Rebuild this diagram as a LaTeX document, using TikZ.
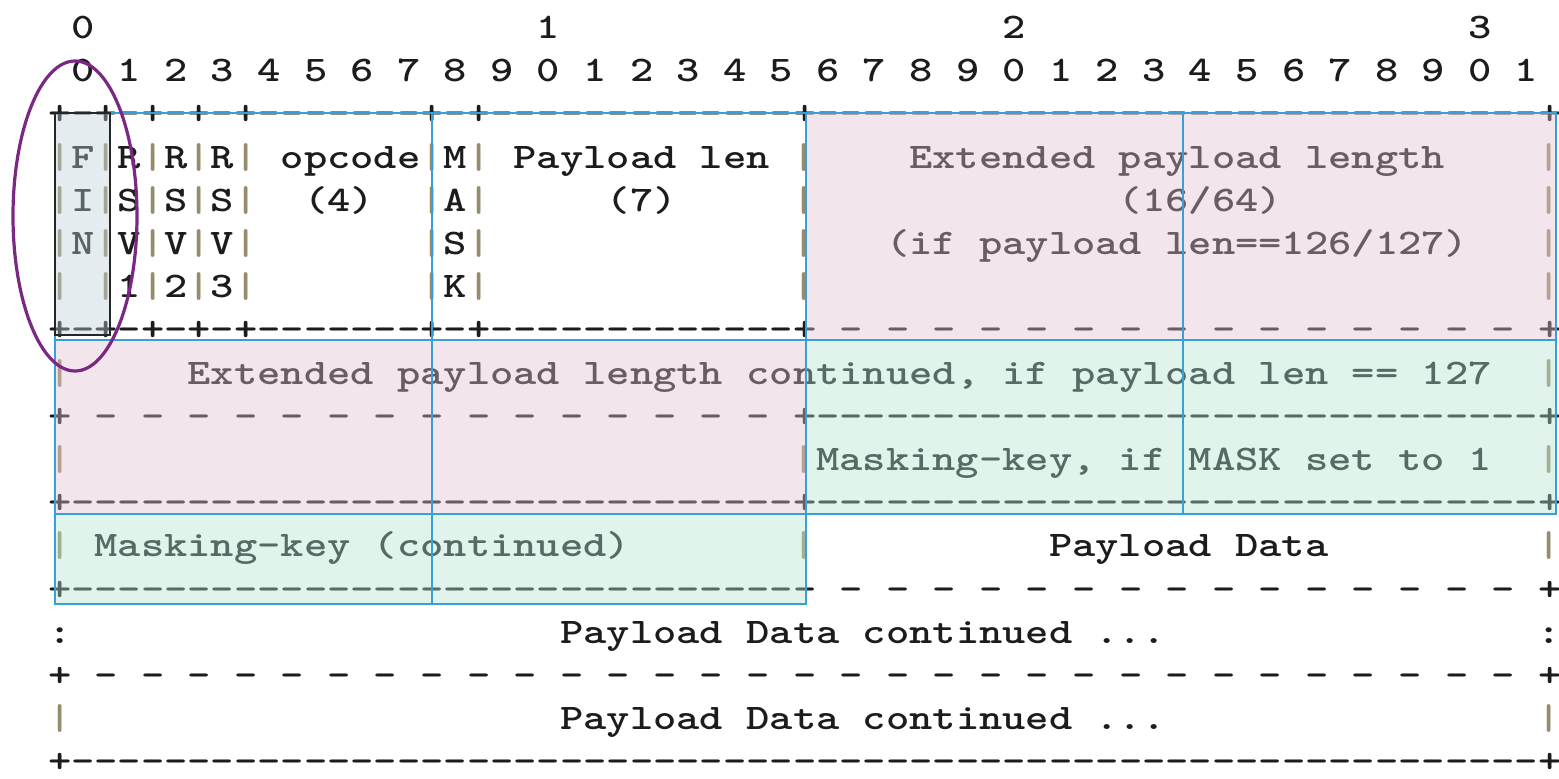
\documentclass[tikz,border=0pt]{standalone}
\usepackage{fontspec}
% bold slab-serif typewriter face, widened to the 23.28pt character pitch
\newfontfamily\framemono{lmmonolt10-bold.otf}[Ligatures=TeXOff, FakeStretch=1.232]
\ExplSyntaxOn
\NewDocumentCommand\rep{mm}{\prg_replicate:nn{#1}{#2}}
\ExplSyntaxOff
\frenchspacing

\definecolor{ink}{RGB}{28,28,30}
\definecolor{barcol}{RGB}{150,140,108}
\definecolor{pinkfill}{RGB}{225,190,207}
\definecolor{greenfill}{RGB}{177,227,207}
\definecolor{finfill}{RGB}{187,207,217}
\definecolor{bluerule}{RGB}{55,160,215}
\definecolor{circlecol}{RGB}{122,40,132}

\tikzset{
  cell/.style={inner sep=0pt, outer sep=0pt, anchor=base west,
    font=\framemono\fontsize{36}{43}\selectfont, text=ink},
  barchar/.style={cell, text=barcol},
  pinkzone/.style={fill=pinkfill, fill opacity=.4},
  greenzone/.style={fill=greenfill, fill opacity=.4},
  finzone/.style={fill=finfill, fill opacity=.4},
  blueline/.style={draw=bluerule, line width=1.8pt},
  finbox/.style={draw=black!85, line width=2.2pt},
  highlight/.style={draw=circlecol, line width=3.2pt}
}

% text run #4 named #1 starting at column #2 of row #3
\newcommand\txt[5][]{\node[cell,#1] (#2) at ({48+23.28*(#3)},{38.5+43.2*(#4)}) {#5};}
% vertical bars of row #1 at the listed columns
\newcommand\bars[2]{\foreach \c in {#2}{\node[barchar] (bar-#1-\c) at ({48+23.28*\c},{38.5+43.2*(#1)}) {|};}}

\begin{document}
\begin{tikzpicture}[x=1pt,y=-1pt]
\useasboundingbox (0,0) rectangle (1559,779);

% bit ruler
\txt{ten0}{1}{0}{0}
\txt{ten1}{21}{0}{1}
\txt{ten2}{41}{0}{2}
\txt{ten3}{61}{0}{3}
\txt{units}{1}{1}{0 1 2 3 4 5 6 7 8 9 0 1 2 3 4 5 6 7 8 9 0 1 2 3 4 5 6 7 8 9 0 1}

% first word
\txt{sep2}{0}{2}{+-+-+-+-+\rep{7}{-}+-+\rep{13}{-}+\rep{31}{-}+}
\bars{3}{0,2,4,6,8,16,18,32,64}
\bars{4}{0,2,4,6,8,16,18,32,64}
\bars{5}{0,2,4,6,8,16,18,32,64}
\bars{6}{0,2,4,6,8,16,18,32,64}
\txt{fin1}{1}{3}{F}
\txt{fin2}{1}{4}{I}
\txt{fin3}{1}{5}{N}
\txt{rsv1a}{3}{3}{R}
\txt{rsv1b}{3}{4}{S}
\txt{rsv1c}{3}{5}{V}
\txt{rsv1d}{3}{6}{1}
\txt{rsv2a}{5}{3}{R}
\txt{rsv2b}{5}{4}{S}
\txt{rsv2c}{5}{5}{V}
\txt{rsv2d}{5}{6}{2}
\txt{rsv3a}{7}{3}{R}
\txt{rsv3b}{7}{4}{S}
\txt{rsv3c}{7}{5}{V}
\txt{rsv3d}{7}{6}{3}
\txt{opcode}{10}{3}{opcode}
\txt{opbits}{11}{4}{(4)}
\txt{mask1}{17}{3}{M}
\txt{mask2}{17}{4}{A}
\txt{mask3}{17}{5}{S}
\txt{mask4}{17}{6}{K}
\txt{plen}{20}{3}{Payload len}
\txt{plenbits}{24}{4}{(7)}
\txt{ext}{37}{3}{Extended payload length}
\txt{extbits}{46}{4}{(16/64)}
\txt{extcond}{36}{5}{(if payload len==126/127)}

% second and third words
\txt{sep7}{0}{7}{+-+-+-+-+\rep{7}{-}+-+\rep{13}{-}+\rep{15}{ -} +}
\bars{8}{0,64}
\txt{extcont}{6}{8}{Extended payload length continued, if payload len == 127}
\txt{sep9}{0}{9}{+\rep{15}{ -} +\rep{31}{-}+}
\bars{10}{0,32,64}
\txt{mkey}{33}{10}{Masking-key, if MASK set to 1}
\txt{sep11}{0}{11}{+\rep{31}{-}+\rep{31}{-}+}

% fourth word and payload
\bars{12}{0,32,64}
\txt{mkeycont}{2}{12}{Masking-key (continued)}
\txt{pdata}{43}{12}{Payload Data}
\txt{sep13}{0}{13}{+\rep{32}{-}\rep{15}{ -} +}
\txt{colonL}{0}{14}{:}
\txt{colonR}{64}{14}{:}
\txt{pdcont1}{22}{14}{Payload Data continued ...}
\txt{sep15}{0}{15}{+\rep{31}{ -} +}
\bars{16}{0,64}
\txt{pdcont2}{22}{16}{Payload Data continued ...}
\txt[text depth=0pt]{sep17}{0}{17}{+\rep{63}{-}+}

% tinted zones laid over the text
\fill[pinkzone] (806,113) rectangle (1556,340);
\fill[pinkzone] (55,340) rectangle (806,514);
\fill[greenzone] (806,340) rectangle (1556,514);
\fill[greenzone] (55,514) rectangle (806,604);
\fill[finzone] (55,113) rectangle (110,335);

% 16-bit grid
\draw[blueline] (55,113) rectangle (1556,340);
\draw[blueline] (55,340) rectangle (1556,514);
\draw[blueline] (55,514) rectangle (806,604);
\draw[blueline] (432,113) -- (432,604);
\draw[blueline] (806,113) -- (806,604);
\draw[blueline] (1183,113) -- (1183,514);

% FIN bit
\draw[finbox] (55,113) rectangle (110,335);
\draw[highlight] (75,216) ellipse [x radius=62, y radius=155];
\end{tikzpicture}
\end{document}
